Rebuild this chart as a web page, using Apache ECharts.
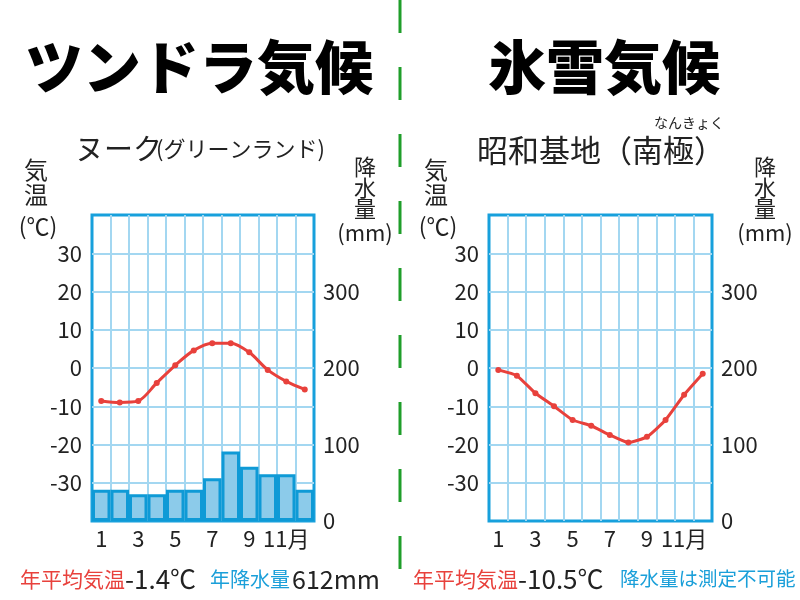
<!DOCTYPE html>
<html>
<head>
<meta charset="utf-8">
<script src="https://cdn.jsdelivr.net/npm/echarts@6/dist/echarts.min.js"></script>
<style>
html,body{margin:0;padding:0;background:#fff;}
#c{width:800px;height:600px;}
</style>
</head>
<body>
<div id="c"></div>
<script>
// ---- data ----
const months = ['1','2','3','4','5','6','7','8','9','10','11月','12'];
const nuukTemp = [-8.6, -9.0, -8.6, -3.9, 0.7, 4.6, 6.5, 6.5, 4.1, -0.5, -3.5, -5.6];
const nuukPrecip = [41, 41, 35, 35, 41, 41, 56, 91, 71, 61, 61, 41];
const syowaTemp = [-0.5, -2.0, -6.6, -10.0, -13.6, -15.1, -17.5, -19.5, -18.0, -13.6, -7.0, -1.5];
const tempTicks = {min: -40, max: 40, interval: 10};
const precipTicks = {min: 0, max: 400, interval: 100};

const FONT = '"Noto Sans CJK JP", "Noto Sans", sans-serif';
const RED = '#e8413c';
const BLUE_TXT = '#1a9fd9';
const FRAME = '#17a0dc';
const GRIDLINE = '#a3d7f1';

const chart = echarts.init(document.getElementById('c'));

function xAxis(gi) {
  return {
    type: 'category', gridIndex: gi, data: months, boundaryGap: true,
    axisLine: {show: false}, axisTick: {show: false},
    axisLabel: {interval: 1, color: '#222', fontSize: 22, fontFamily: FONT, margin: 7},
    splitLine: {show: true, interval: 0, showMinLine: false, showMaxLine: false,
      lineStyle: {color: GRIDLINE, width: 2}}
  };
}
function yTemp(gi) {
  return {
    type: 'value', gridIndex: gi, position: 'left',
    min: tempTicks.min, max: tempTicks.max, interval: tempTicks.interval,
    axisLine: {show: false}, axisTick: {show: false},
    axisLabel: {showMinLabel: false, showMaxLabel: false, color: '#222', fontSize: 22, fontFamily: FONT, margin: 10},
    splitLine: {show: true, showMinLine: false, showMaxLine: false, lineStyle: {color: GRIDLINE, width: 2}}
  };
}
function yPrecip(gi) {
  return {
    type: 'value', gridIndex: gi, position: 'right',
    min: precipTicks.min, max: precipTicks.max, interval: precipTicks.interval,
    axisLine: {show: false}, axisTick: {show: false},
    axisLabel: {showMinLabel: true, showMaxLabel: false, color: '#222', fontSize: 22, fontFamily: FONT, margin: 9},
    splitLine: {show: false}
  };
}

function txt(x, y, text, size, color, opts) {
  return Object.assign({
    type: 'text', x: x, y: y, z: 10,
    style: Object.assign({text: text, fontSize: size, fill: color, fontFamily: FONT,
      textVerticalAlign: 'middle'}, opts || {})
  });
}

const graphics = [
  {type: 'line', z: 5, shape: {x1: 400, y1: 0, x2: 400, y2: 600},
    style: {stroke: '#1f9e2a', lineWidth: 3, lineDash: [33, 34]}},
  txt(25, 67, 'ツンドラ気候', 58, '#000', {fontWeight: 900}),
  txt(488, 67, '氷雪気候', 58, '#000', {fontWeight: 900}),
  txt(75, 149, 'ヌーク', 29, '#222'),
  txt(156, 149, '(グリーンランド)', 22, '#222'),
  txt(477, 150, '昭和基地（南極）', 31, '#222'),
  txt(689, 123, 'なんきょく', 14, '#222', {textAlign: 'center'}),
  // left chart axis names
  txt(36, 182, '気\n温', 24, '#222', {textAlign: 'center', lineHeight: 25}),
  txt(38, 226, '(℃)', 23, '#222', {textAlign: 'center'}),
  txt(365, 188, '降\n水\n量', 22, '#222', {textAlign: 'center', lineHeight: 21}),
  txt(365, 233, '(mm)', 22, '#222', {textAlign: 'center'}),
  // right chart axis names
  txt(436, 182, '気\n温', 24, '#222', {textAlign: 'center', lineHeight: 25}),
  txt(438, 226, '(℃)', 23, '#222', {textAlign: 'center'}),
  txt(765, 188, '降\n水\n量', 22, '#222', {textAlign: 'center', lineHeight: 21}),
  txt(765, 233, '(mm)', 22, '#222', {textAlign: 'center'}),
  // bottom notes
  txt(20, 579, '年平均気温', 21, RED),
  txt(125, 579, '-1.4℃', 26, '#222'),
  txt(210, 579, '年降水量', 20, BLUE_TXT),
  txt(292, 579, '612mm', 25, '#222'),
  txt(413, 579, '年平均気温', 21, RED),
  txt(518, 579, '-10.5℃', 26, '#222'),
  txt(620, 579, '降水量は測定不可能', 19.5, BLUE_TXT)
];

chart.setOption({
  animation: false,
  backgroundColor: '#fff',
  grid: [
    {left: 92, top: 215, width: 222, height: 306, show: true, borderColor: FRAME, borderWidth: 3, backgroundColor: 'transparent'},
    {left: 489, top: 215, width: 223, height: 306, show: true, borderColor: FRAME, borderWidth: 3, backgroundColor: 'transparent'}
  ],
  xAxis: [xAxis(0), xAxis(1)],
  yAxis: [yTemp(0), yPrecip(0), yTemp(1), yPrecip(1)],
  series: [
    {type: 'bar', xAxisIndex: 0, yAxisIndex: 1, data: nuukPrecip, barWidth: '100%',
      itemStyle: {color: '#8ccbea', borderColor: '#0e9ad6', borderWidth: 3}},
    {type: 'line', xAxisIndex: 0, yAxisIndex: 0, data: nuukTemp, smooth: 0.3,
      symbol: 'circle', symbolSize: 6,
      lineStyle: {color: RED, width: 3}, itemStyle: {color: RED}},
    {type: 'line', xAxisIndex: 1, yAxisIndex: 2, data: syowaTemp, smooth: 0.15,
      symbol: 'circle', symbolSize: 6,
      lineStyle: {color: RED, width: 3}, itemStyle: {color: RED}}
  ],
  graphic: graphics
});
</script>
</body>
</html>
